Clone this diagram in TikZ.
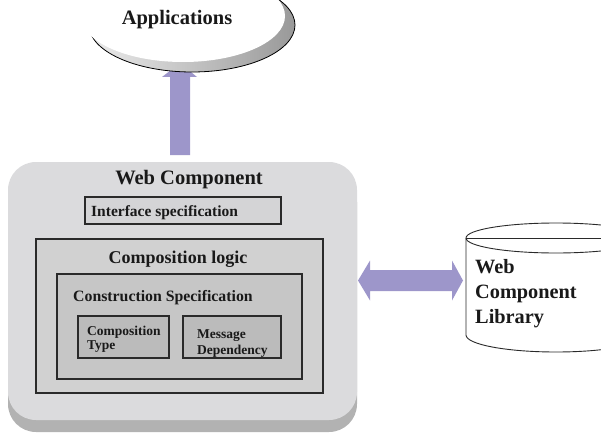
\documentclass[tikz,border=0pt]{standalone}
\usepackage{fontspec}
\setmainfont{Liberation Serif}
\usetikzlibrary{calc}
\definecolor{outerfill}{HTML}{DBDBDD}
\definecolor{shadowfill}{HTML}{B2B2B2}
\definecolor{ifacefill}{HTML}{D4D4D6}
\definecolor{logicfill}{HTML}{D1D1D1}
\definecolor{constrfill}{HTML}{C6C6C6}
\definecolor{smallfill}{HTML}{BBBBBB}
\definecolor{arrowfill}{HTML}{9D96CA}
\definecolor{edge}{HTML}{2A2A2A}
\tikzset{
  boxstyle/.style={draw=edge, line width=1.1pt, rectangle, inner sep=0pt},
  lbl/.style={font=\bfseries, inner sep=0pt, text=black!90},
  blockarrow/.style={fill=arrowfill, draw=none}
}
\newcommand{\fs}[1]{\fontsize{#1}{#1}\selectfont}
\begin{document}
\begin{tikzpicture}[x=1pt,y=-1pt]
\useasboundingbox (0,0) rectangle (601,433);
\clip (0,0) rectangle (601,433);
% outer web component with shadow
\node[rectangle, rounded corners=28pt, fill=shadowfill, minimum width=349pt, minimum height=258pt, inner sep=0pt] (outershadow) at (182.5,303) {};
\node[rectangle, rounded corners=28pt, fill=outerfill, minimum width=349pt, minimum height=258pt, inner sep=0pt] (outer) at (182.5,291) {};
\node[boxstyle, fill=ifacefill, minimum width=196pt, minimum height=27pt] (iface) at (183,210.5) {};
\node[boxstyle, fill=logicfill, minimum width=287pt, minimum height=154pt] (logic) at (179.5,316) {};
\node[boxstyle, fill=constrfill, minimum width=245pt, minimum height=105pt] (constr) at (179.5,326.5) {};
\node[boxstyle, fill=smallfill, minimum width=91pt, minimum height=42pt] (ctype) at (123.5,337) {};
\node[boxstyle, fill=smallfill, minimum width=98pt, minimum height=42pt] (mdep) at (232,337) {};
% labels
\node[lbl, anchor=base] (wctitle) at (189,184) {\fs{20.5}Web Component};
\node[lbl, anchor=base west] (ifacelbl) at (91,216) {\fs{15.5}Interface specification};
\node[lbl, anchor=base] (logiclbl) at (178,263) {\fs{18}Composition logic};
\node[lbl, anchor=base west] (constrlbl) at (73,301) {\fs{15.8}Construction Specification};
\node[lbl, anchor=base west] (ctypelbl) at (87,335) {\fs{13.5}Composition};
\node[lbl, anchor=base west] (ctypelbl2) at (87,349) {\fs{13.5}Type};
\node[lbl, anchor=base west] (mdeplbl) at (197,338) {\fs{13.5}Message};
\node[lbl, anchor=base west] (mdeplbl2) at (197,354) {\fs{13.5}Dependency};
% up arrow from outer to applications
\coordinate (upbase) at (180,155);
\coordinate (uptip) at (180,63);
\fill[blockarrow] ($(upbase)+(-10,0)$) -- ($(upbase)+(10,0)$) -- (190,77) -- (197,77) -- (uptip) -- (162,77) -- (170,77) -- cycle;
% applications shape
\shade[left color=gray!15, right color=gray!80, draw=black, line width=0.8pt] (192,25) ellipse [x radius=103, y radius=47];
\fill[white] (183,16) ellipse [x radius=102, y radius=46];
\node[lbl, anchor=base] (apps) at (177,25) {\fs{20.5}Applications};
% cylinder library
\fill[white] (466,238) -- (466,335) arc [start angle=180, end angle=0, x radius=90, y radius=17] -- (646,238) -- cycle;
\draw[edge, line width=0.9pt] (466,238) -- (466,335) arc [start angle=180, end angle=0, x radius=90, y radius=17];
\draw[edge, line width=0.9pt, fill=white] (556,238) ellipse [x radius=90, y radius=15];
\draw[edge, line width=0.9pt] (466,238) -- (601,238);
\node[lbl, anchor=base west] (lib1) at (475,273) {\fs{20.3}Web};
\node[lbl, anchor=base west] (lib2) at (475,298) {\fs{20.3}Component};
\node[lbl, anchor=base west] (lib3) at (475,323) {\fs{20.3}Library};
% double arrow
\coordinate (dl) at (358,280.5);
\coordinate (dr) at (463,280.5);
\fill[blockarrow] (dl) -- (370,260.5) -- (370,270) -- (452,270) -- (452,260.5) -- (dr) -- (452,300.5) -- (452,291) -- (370,291) -- (370,300.5) -- cycle;
\end{tikzpicture}
\end{document}
